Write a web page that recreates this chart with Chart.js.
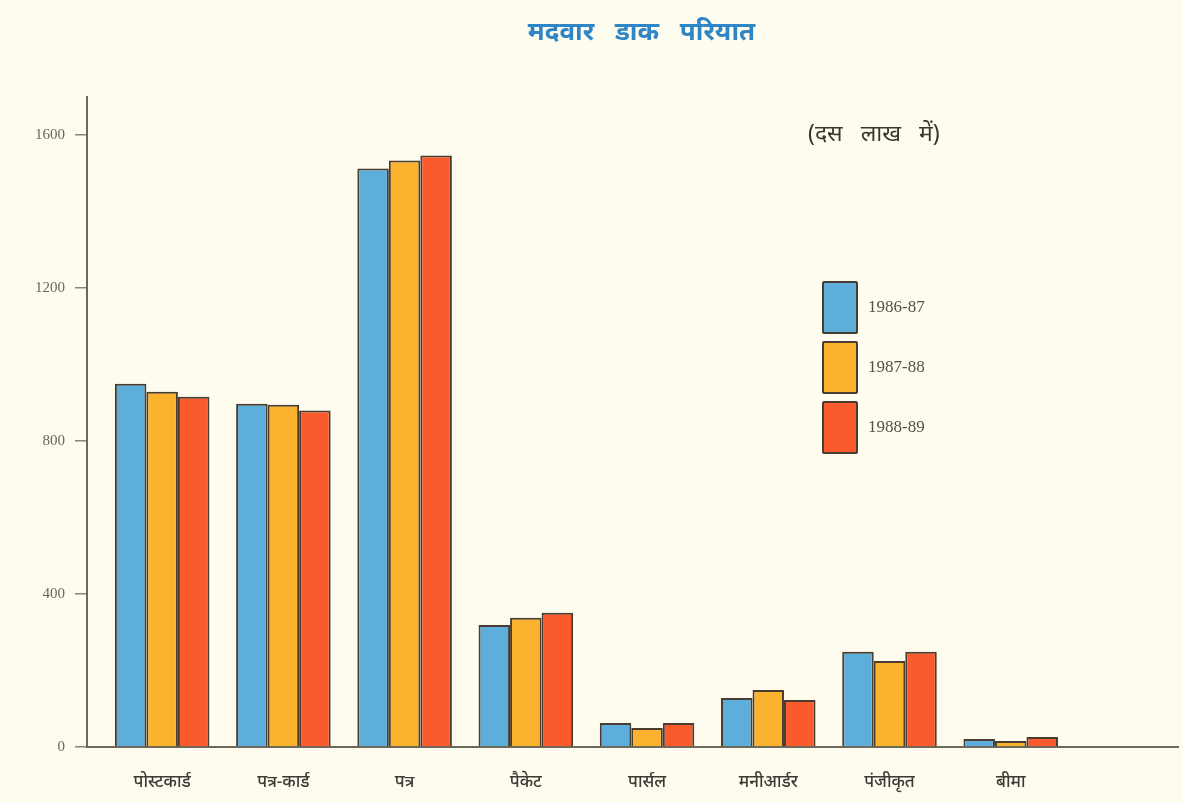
<!DOCTYPE html>
<html>
<head>
<meta charset="utf-8">
<script src="https://cdn.jsdelivr.net/npm/chart.js@4"></script>
<style>
  html, body { margin: 0; padding: 0; background: #fefcee; }
  #wrap { position: relative; width: 1183px; height: 802px; }
  #titulo { position: absolute; left: 0; width: 1283px; top: 12px; text-align: center;
            font: bold 26px "Noto Sans", sans-serif; color: #2f86c6; word-spacing: 14px; }
  #unidad { position: absolute; left: 808px; top: 116px; font: 23px "Noto Sans", sans-serif; color: #3a3530; word-spacing: 12px; }
  #leyenda { position: absolute; left: 822px; top: 277px; }
  .item { display: flex; align-items: center; height: 60px; }
  .caja { width: 32px; height: 49px; border: 2px solid #4a3c2e; border-radius: 2px; margin-right: 10px; }
  .texto { font: 17px "Liberation Serif", serif; color: #555048; }
</style>
</head>
<body>
<div id="wrap">
  <canvas id="trafico" width="1183" height="802"></canvas>
  <div id="titulo">मदवार डाक परियात</div>
  <div id="unidad">(दस लाख में)</div>
  <div id="leyenda"></div>
</div>
<script>
  var categorias = ['पोस्टकार्ड', 'पत्र-कार्ड', 'पत्र', 'पैकेट', 'पार्सल', 'मनीआर्डर', 'पंजीकृत', 'बीमा'];
  var anios = ['1986-87', '1987-88', '1988-89'];
  var datos8687 = [950, 898, 1513, 319, 63, 128, 249, 21];
  var datos8788 = [929, 895, 1534, 338, 50, 149, 225, 16];
  var datos8889 = [916, 880, 1547, 351, 63, 123, 249, 26];
  var colores = ['#5eaedb', '#fbb22c', '#fa5a2c'];
  var marcasY = [0, 400, 800, 1200, 1600];

  function puntos(valores) {
    return valores.map(function (v, i) { return { x: i, y: v }; });
  }

  var series = [datos8687, datos8788, datos8889];
  var datasets = series.map(function (s, k) {
    return {
      label: anios[k],
      data: puntos(s),
      backgroundColor: colores[k],
      borderColor: '#4a3c2e',
      borderWidth: 2,
      borderSkipped: 'bottom',
      categoryPercentage: 0.78,
      barPercentage: 1.0
    };
  });

  var ctx = document.getElementById('trafico');
  var config = {
    type: 'bar',
    data: { datasets: datasets },
    options: {
      responsive: false,
      animation: false,
      layout: { padding: { top: 97, right: 5, left: 0, bottom: 0 } },
      plugins: { legend: { display: false }, tooltip: { enabled: false } },
      scales: {
        x: {
          type: 'linear',
          offset: false,
          min: -0.62,
          max: 8.38,
          grid: { display: false },
          border: { display: true, color: '#6d685a', width: 2 },
          afterBuildTicks: function (scale) {
            scale.ticks = categorias.map(function (c, i) { return { value: i }; });
          },
          afterFit: function (scale) { scale.height = 55; },
          ticks: {
            autoSkip: false,
            maxRotation: 0,
            padding: 17,
            color: '#3d3a34',
            font: { family: '"Noto Sans", sans-serif', size: 17, weight: '500' },
            callback: function (v) { return categorias[v]; }
          }
        },
        y: {
          min: 0,
          max: 1700,
          afterBuildTicks: function (scale) {
            scale.ticks = marcasY.map(function (v) { return { value: v }; });
          },
          afterFit: function (scale) { scale.width = 87; },
          grid: { drawOnChartArea: false, drawTicks: true, tickLength: 12, color: '#8a8576', lineWidth: 1.5 },
          border: { display: true, color: '#6d685a', width: 2 },
          ticks: {
            padding: 10,
            color: '#6a665c',
            font: { family: '"Liberation Serif", serif', size: 15 },
            callback: function (v) { return String(v); }
          }
        }
      }
    }
  };
  var grafico = new Chart(ctx, config);

  // leyenda hecha a mano con los mismos colores de las series
  var ley = document.getElementById('leyenda');
  grafico.data.datasets.forEach(function (d) {
    var fila = document.createElement('div');
    fila.className = 'item';
    fila.innerHTML = '<div class="caja" style="background:' + d.backgroundColor + '"></div><span class="texto">' + d.label + '</span>';
    ley.appendChild(fila);
  });
</script>
</body>
</html>
